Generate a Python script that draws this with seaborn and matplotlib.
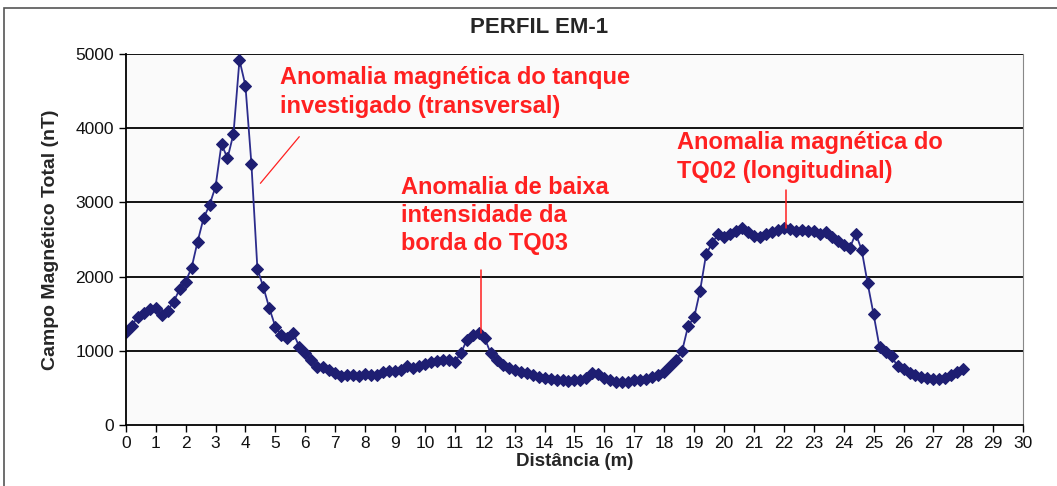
import matplotlib
matplotlib.use('Agg')
import matplotlib.pyplot as plt
import numpy as np
import pandas as pd
import seaborn as sns
from matplotlib.patches import Rectangle

distancia = [0.0, 0.2, 0.4, 0.6, 0.8, 1.0, 1.2, 1.4, 1.6, 1.8,
             2.0, 2.2, 2.4, 2.6, 2.8, 3.0, 3.2, 3.4, 3.6, 3.8,
             4.0, 4.2, 4.4, 4.6, 4.8, 5.0, 5.2, 5.4, 5.6, 5.8,
             6.0, 6.2, 6.4, 6.6, 6.8, 7.0, 7.2, 7.4, 7.6, 7.8,
             8.0, 8.2, 8.4, 8.6, 8.8, 9.0, 9.2, 9.4, 9.6, 9.8,
             10.0, 10.2, 10.4, 10.6, 10.8, 11.0, 11.2, 11.4, 11.6, 11.8,
             12.0, 12.2, 12.4, 12.6, 12.8, 13.0, 13.2, 13.4, 13.6, 13.8,
             14.0, 14.2, 14.4, 14.6, 14.8, 15.0, 15.2, 15.4, 15.6, 15.8,
             16.0, 16.2, 16.4, 16.6, 16.8, 17.0, 17.2, 17.4, 17.6, 17.8,
             18.0, 18.2, 18.4, 18.6, 18.8, 19.0, 19.2, 19.4, 19.6, 19.8,
             20.0, 20.2, 20.4, 20.6, 20.8, 21.0, 21.2, 21.4, 21.6, 21.8,
             22.0, 22.2, 22.4, 22.6, 22.8, 23.0, 23.2, 23.4, 23.6, 23.8,
             24.0, 24.2, 24.4, 24.6, 24.8, 25.0, 25.2, 25.4, 25.6, 25.8,
             26.0, 26.2, 26.4, 26.6, 26.8, 27.0, 27.2, 27.4, 27.6, 27.8,
             28.0]
campo = [1257, 1334, 1460, 1505, 1560, 1573, 1482, 1540, 1662, 1829,
         1931, 2120, 2470, 2786, 2965, 3212, 3787, 3594, 3922, 4919,
         4573, 3517, 2106, 1856, 1573, 1325, 1213, 1168, 1240, 1055,
         966, 876, 786, 786, 741, 697, 660, 670, 680, 660,
         690, 680, 680, 710, 730, 730, 740, 800, 770, 790,
         820, 850, 867, 876, 876, 853, 966, 1145, 1213, 1236,
         1168, 966, 876, 809, 764, 741, 718, 697, 674, 651,
         629, 615, 606, 606, 597, 606, 610, 640, 700, 690,
         630, 600, 584, 584, 584, 600, 606, 620, 645, 680,
         720, 800, 876, 1001, 1336, 1450, 1812, 2300, 2450, 2570,
         2530, 2570, 2610, 2660, 2600, 2550, 2540, 2570, 2600, 2625,
         2650, 2640, 2620, 2630, 2620, 2620, 2580, 2600, 2540, 2480,
         2420, 2380, 2580, 2360, 1910, 1490, 1045, 980, 930, 790,
         750, 705, 680, 650, 630, 620, 620, 640, 680, 720,
         760]

titulo = 'PERFIL EM-1'
rotulo_x = 'Distância (m)'
rotulo_y = 'Campo Magnético Total (nT)'
anotacoes = ['Anomalia magnética do tanque\ninvestigado (transversal)',
             'Anomalia de baixa\nintensidade da\nborda do TQ03',
             'Anomalia magnética do\nTQ02 (longitudinal)']

df = pd.DataFrame({'dist': distancia, 'campo': campo})

sns.set_style('white')
plt.rcParams['font.family'] = ['Liberation Sans', 'DejaVu Sans']

fig = plt.figure(figsize=(10.57, 4.86), dpi=100)
ax = fig.add_axes([0.119, 0.1255, 0.849, 0.7635])
ax.set_facecolor('#fafafa')

navy = '#1e1e72'
sns.lineplot(data=df, x='dist', y='campo', ax=ax, color='#2c2c8c', linewidth=1.3,
             marker='D', markersize=6.5, markeredgecolor=navy, markerfacecolor=navy)

ax.set_xlim(0, 30)
ax.set_ylim(0, 5000)
ax.set_xticks(range(0, 31))
ax.set_yticks(range(0, 5001, 1000))
for v in range(1000, 5001, 1000):
    ax.axhline(v, color='black', linewidth=1.3, zorder=0)

ax.spines['top'].set_visible(False)
ax.spines['right'].set_color('#888888')
ax.spines['right'].set_linewidth(0.8)
ax.spines['left'].set_color('black')
ax.spines['bottom'].set_color('black')
ax.spines['left'].set_linewidth(1.3)
ax.spines['bottom'].set_linewidth(1.3)

ax.tick_params(axis='both', which='both', direction='out', length=5, width=1,
               color='black', labelsize=12.5, labelcolor='#111111', bottom=True, left=True)
ax.tick_params(axis='x', pad=3)

ax.set_xlabel(rotulo_x, fontsize=13.5, fontweight='bold', labelpad=1)
ax.set_ylabel(rotulo_y, fontsize=14, fontweight='bold', labelpad=12)
fig.text(0.51, 0.944, titulo, ha='center', va='center', fontsize=16, fontweight='bold')

red = '#ff2020'
ax.text(5.15, 4840, anotacoes[0], color=red, fontsize=17, fontweight='bold',
        va='top', ha='left', linespacing=1.32)
ax.plot([4.5, 5.8], [3257, 3885], color=red, linewidth=0.9)

ax.text(9.2, 3360, anotacoes[1], color=red, fontsize=17, fontweight='bold',
        va='top', ha='left', linespacing=1.3)
ax.plot([11.87, 11.87], [2090, 1240], color=red, linewidth=1.1)

ax.text(18.43, 3955, anotacoes[2], color=red, fontsize=17, fontweight='bold',
        va='top', ha='left', linespacing=1.32)
ax.plot([22.07, 22.07], [3170, 2660], color=red, linewidth=1.1)

fig.patches.append(Rectangle((0.004, -0.01), 1.2, 0.993, transform=fig.transFigure,
                             fill=False, edgecolor='#555555', linewidth=1.2))

fig.savefig('out.png', dpi=100)
